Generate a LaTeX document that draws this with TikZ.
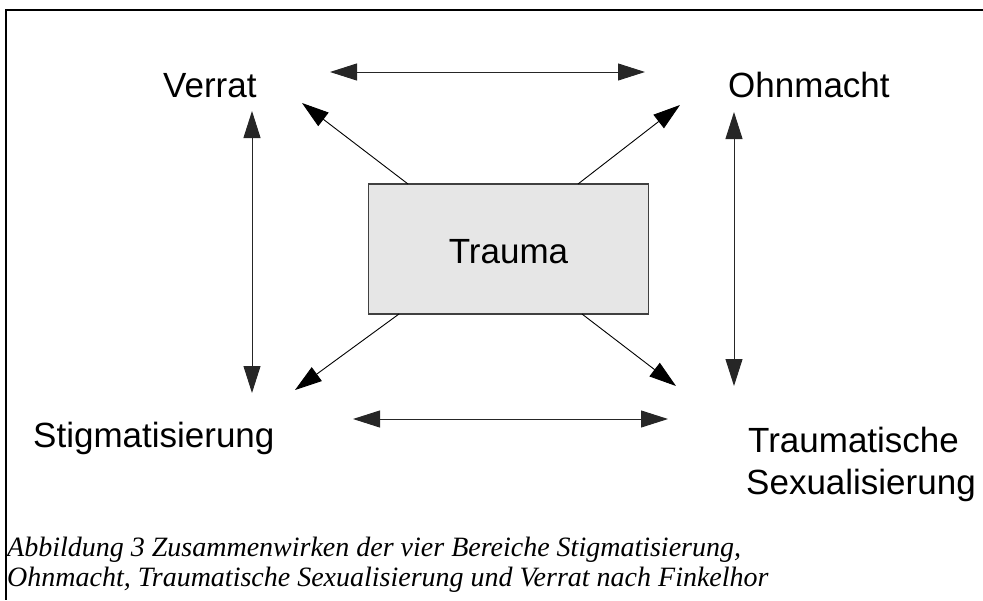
\documentclass[tikz,border=0pt]{standalone}
\usepackage{fontspec}
\setmainfont{Liberation Sans}
\newfontfamily\capfont{Liberation Serif}
\usetikzlibrary{arrows.meta}
\tikzset{
  lbl/.style={inner sep=0pt, anchor=base west, font=\fontsize{35}{42}\selectfont},
  dbl/.style={line width=1pt, draw=black!85, {Triangle[length=27pt,width=17pt]}-{Triangle[length=27pt,width=17pt]}},
  single/.style={line width=0.9pt, draw=black, -{Triangle[length=27pt,width=17pt]}},
  captext/.style={inner sep=0pt, anchor=base west, font=\capfont\itshape\fontsize{28}{30}\selectfont},
  frameline/.style={line width=1.4pt, draw=black}
}
\begin{document}
\begin{tikzpicture}[x=1pt,y=-1pt]
\useasboundingbox (0,0) rectangle (983,600);
% frame
\coordinate (fc) at (6,10);
\coordinate (fr) at (983,10);
\coordinate (fb) at (6,600);
\draw[frameline] (fr) -- (fc) -- (fb);
% box
\node (trauma) [draw=black!75, line width=1.2pt, fill={rgb,255:red,230;green,230;blue,230},
  minimum width=280pt, minimum height=130pt, inner sep=0pt] at (508.5,249) {};
\node[inner sep=0pt, anchor=base, font=\fontsize{35}{42}\selectfont] (ttext) at (508.5,263) {Trauma};
% labels
\node[lbl] (verrat) at (163,97) {Verrat};
\node[lbl] (ohn) at (728,97) {Ohnmacht};
\node[lbl] (stig) at (33,447) {Stigmatisierung};
\node[lbl] (tr1) at (748,452) {Traumatische};
\node[lbl] (sex) at (746,494) {Sexualisierung};
% arrow endpoints
\coordinate (tl) at (330,72);  \coordinate (tr) at (645,72);
\coordinate (bl) at (353,419); \coordinate (br) at (668,419);
\coordinate (lt) at (252,111); \coordinate (lb) at (252,393);
\coordinate (rt) at (734,112); \coordinate (rb) at (734,386);
\coordinate (d1s) at (408,184); \coordinate (d1e) at (302,103);
\coordinate (d2s) at (578,184); \coordinate (d2e) at (680,105);
\coordinate (d3s) at (399,314); \coordinate (d3e) at (295,390);
\coordinate (d4s) at (582,314); \coordinate (d4e) at (676,386);
\draw[dbl] (tl) -- (tr);
\draw[dbl] (bl) -- (br);
\draw[dbl] (lt) -- (lb);
\draw[dbl] (rt) -- (rb);
\draw[single] (d1s) -- (d1e);
\draw[single] (d2s) -- (d2e);
\draw[single] (d3s) -- (d3e);
\draw[single] (d4s) -- (d4e);
% caption
\node[captext] (c1) at (7,556) {Abbildung 3 Zusammenwirken der vier Bereiche Stigmatisierung,};
\node[captext] (c2) at (7,586) {Ohnmacht, Traumatische Sexualisierung und Verrat nach Finkelhor};
\end{tikzpicture}
\end{document}
